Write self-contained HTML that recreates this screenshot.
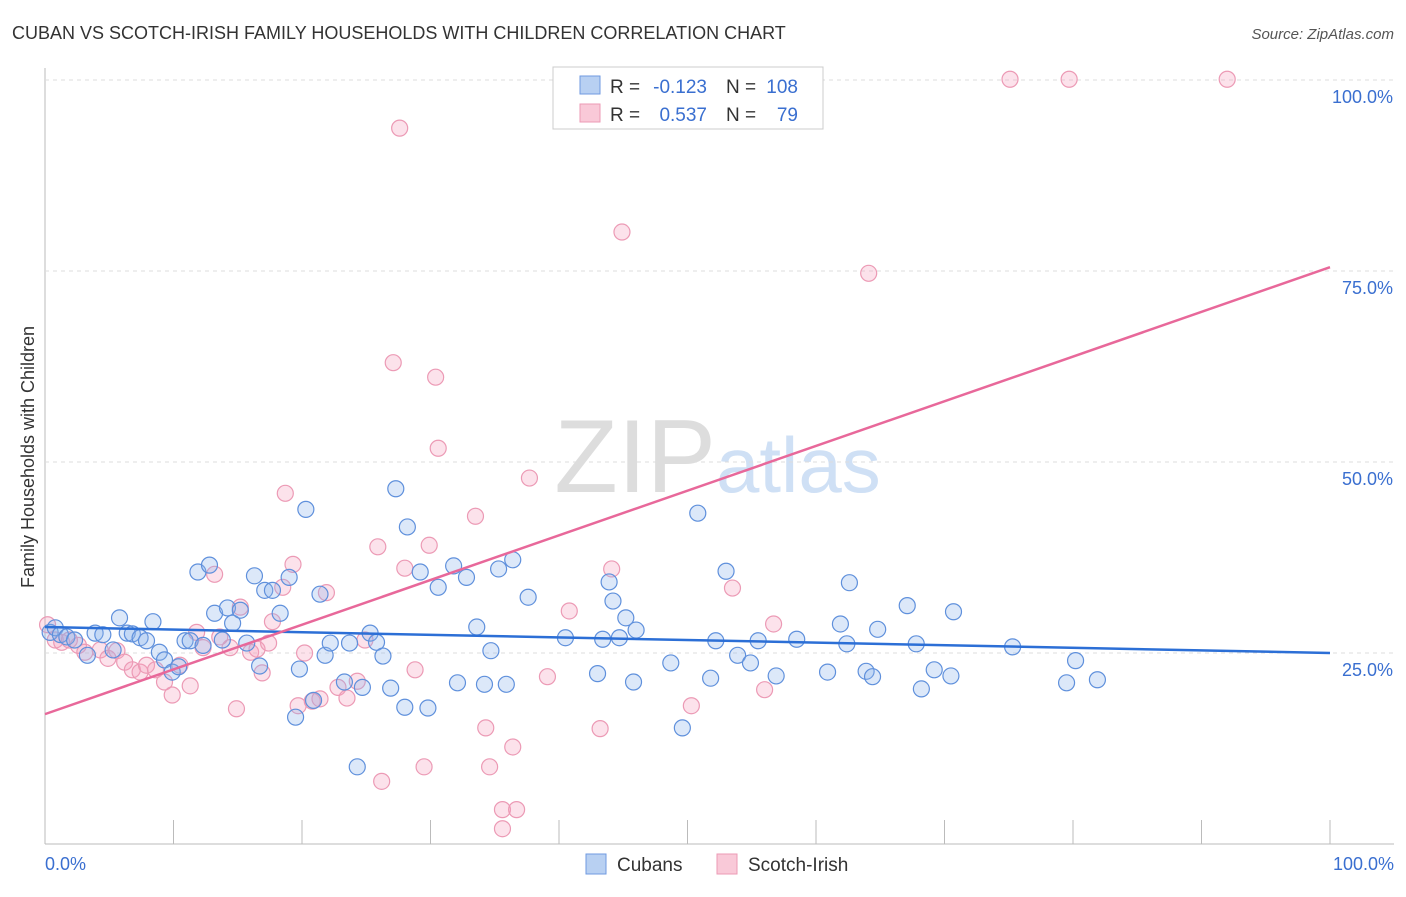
<!DOCTYPE html>
<html><head><meta charset="utf-8"><style>
body{margin:0;background:#fff;font-family:"Liberation Sans",sans-serif}
svg text{font-family:"Liberation Sans",sans-serif}
</style></head><body>
<svg id="chart" width="1406" height="892">
<text x="12" y="39" font-size="18" fill="#333">CUBAN VS SCOTCH-IRISH FAMILY HOUSEHOLDS WITH CHILDREN CORRELATION CHART</text>
<text x="1394" y="39" font-size="15" fill="#555" font-style="italic" text-anchor="end">Source: ZipAtlas.com</text>
<text x="716" y="492" font-size="104" fill="#ddd" text-anchor="end" font-family="Liberation Serif">ZIP</text>
<text x="716" y="492" font-size="78" fill="#cfe0f5">atlas</text>
<g id="grid"></g><g id="pts"></g><g id="lines"></g>
<text transform="translate(34,457) rotate(-90)" font-size="18" fill="#333" text-anchor="middle">Family Households with Children</text>
<text x="45" y="870" font-size="18" fill="#3a6fd0">0.0%</text>
<text x="1394" y="870" font-size="18" fill="#3a6fd0" text-anchor="end">100.0%</text>
<g>
<rect x="553" y="67" width="270" height="62" fill="#fff" stroke="#ccc"/>
<rect x="580" y="76" width="20" height="18" fill="#b8d0f2" stroke="#6f9ae0"/>
<rect x="580" y="104" width="20" height="18" fill="#f9c9d8" stroke="#ec9ab5"/>
<text x="610" y="93" font-size="19" fill="#333">R =</text>
<text x="707" y="93" font-size="19" fill="#3a6fd0" text-anchor="end">-0.123</text>
<text x="726" y="93" font-size="19" fill="#333">N =</text>
<text x="798" y="93" font-size="19" fill="#3a6fd0" text-anchor="end">108</text>
<text x="610" y="121" font-size="19" fill="#333">R =</text>
<text x="707" y="121" font-size="19" fill="#3a6fd0" text-anchor="end">0.537</text>
<text x="726" y="121" font-size="19" fill="#333">N =</text>
<text x="798" y="121" font-size="19" fill="#3a6fd0" text-anchor="end">79</text>
</g>
<g>
<rect x="586" y="854" width="20" height="20" fill="#b8d0f2" stroke="#6f9ae0"/>
<text x="617" y="871" font-size="19" fill="#333">Cubans</text>
<rect x="717" y="854" width="20" height="20" fill="#f9c9d8" stroke="#ec9ab5"/>
<text x="748" y="871" font-size="19" fill="#333">Scotch-Irish</text>
</g>
</svg>
<script>
const yTicks=[25,50,75,100];
const yTickLabels=["25.0%","50.0%","75.0%","100.0%"];
const xTicks=[0,10,20,30,40,50,60,70,80,90,100];
const cubanX=[0.4,0.8,1.2,1.7,2.3,3.3,3.9,4.5,5.3,5.8,6.4,6.8,7.4,7.9,8.4,8.9,9.3,9.9,10.4,10.9,11.3,11.9,12.3,12.8,13.2,13.8,14.2,14.6,15.2,15.7,16.3,16.7,17.1,17.7,18.3,19.0,19.5,19.8,20.3,20.9,21.4,21.8,22.2,23.3,23.7,24.3,24.7,25.3,25.8,26.3,26.9,27.3,28.0,28.2,29.2,29.8,30.6,31.8,32.1,32.8,33.6,34.2,34.7,35.3,35.9,36.4,37.6,40.5,43.0,43.4,43.9,44.2,44.7,45.2,45.8,46.0,48.7,49.6,50.8,51.8,52.2,53.0,53.9,54.9,55.5,56.9,58.5,60.9,61.9,62.4,62.6,63.9,64.4,64.8,67.1,67.8,68.2,69.2,70.5,70.7,75.3,79.5,80.2,81.9];
const cubanY=[27.7,28.3,27.4,27.1,26.7,24.7,27.6,27.4,25.4,29.6,27.6,27.5,27.0,26.6,29.1,25.1,24.1,22.5,23.2,26.6,26.6,35.6,26.0,36.5,30.2,26.7,30.9,28.9,30.6,26.3,35.1,23.3,33.2,33.2,30.2,34.9,16.6,22.9,43.8,18.8,32.7,24.7,26.3,21.2,26.3,10.1,20.5,27.6,26.4,24.6,20.4,46.5,17.9,41.5,35.6,17.8,33.6,36.4,21.1,34.9,28.4,20.9,25.3,36.0,20.9,37.2,32.3,27.0,22.3,26.8,34.3,31.8,27.0,29.6,21.2,28.0,23.7,15.2,43.3,21.7,26.6,35.7,24.7,23.7,26.6,22.0,26.8,22.5,28.8,26.2,34.2,22.6,21.9,28.1,31.2,26.2,20.3,22.8,22.0,30.4,25.8,21.1,24.0,21.5];
const scotX=[0.2,0.8,1.3,1.9,2.6,3.1,4.3,4.9,5.6,6.2,6.8,7.4,7.9,8.6,9.3,9.9,10.5,11.3,11.8,12.3,13.2,13.6,14.4,14.9,15.2,16.0,16.5,16.9,17.4,17.7,18.5,18.7,19.3,19.7,20.2,20.8,21.4,21.9,22.8,23.5,24.3,24.9,25.9,26.2,27.1,27.6,28.0,28.8,29.5,29.9,30.4,30.6,33.5,34.3,34.6,35.6,35.6,36.4,36.7,37.7,39.1,40.8,43.2,44.1,44.9,50.3,53.5,56.0,56.7,64.1,75.1,79.7,92.0];
const scotY=[28.7,26.7,26.4,26.7,26.0,25.1,25.4,24.3,25.3,23.8,22.8,22.5,23.4,22.8,21.2,19.5,23.4,20.7,27.7,25.7,35.3,27.1,25.7,17.7,31.0,25.1,25.5,22.4,26.3,29.1,33.6,45.9,36.6,18.1,25.0,18.7,19.0,32.9,20.5,19.1,21.3,26.7,38.9,8.2,63.0,93.7,36.1,22.8,10.1,39.1,61.1,51.8,42.9,15.2,10.1,4.5,2.0,12.7,4.5,47.9,21.9,30.5,15.1,36.0,80.1,18.1,33.5,20.2,28.8,74.7,100.1,100.1,100.1];
const cubanTrend=[28.4,25.0];
const scotTrend=[17.0,75.5];
const NS="http://www.w3.org/2000/svg";
const X=v=>45+v*12.85, Y=v=>844-v*7.64;
function mk(t,a,p){const e=document.createElementNS(NS,t);for(const k in a)e.setAttribute(k,a[k]);p.appendChild(e);return e;}
const grid=document.getElementById('grid');
const gl=mk('line',{x1:45,y1:68,x2:45,y2:844,stroke:'#bbb'},grid);


const bl=mk('line',{x1:45,y1:844,x2:1394,y2:844,stroke:'#bbb'},grid);


yTicks.forEach((t,i)=>{
 const l=mk('line',{x1:45,y1:Y(t),x2:1394,y2:Y(t),stroke:'#ddd','stroke-dasharray':'4 4'},grid);
 
 
 const tx=mk('text',{x:1393,y:Y(t)+23,'font-size':18,fill:'#3a6fd0','text-anchor':'end'},grid);
 tx.textContent=yTickLabels[i];
 
 
});
xTicks.forEach(t=>{
 const l=mk('line',{x1:X(t),y1:820,x2:X(t),y2:844,stroke:'#bbb'},grid);
 
 
});
const pts=document.getElementById('pts');
scotX.forEach((v,i)=>{
 const c=mk('circle',{cx:X(v),cy:Y(scotY[i]),r:8,fill:'rgba(244,160,188,0.3)',stroke:'#ec9ab5','stroke-width':1.2},pts);
 
 
});
cubanX.forEach((v,i)=>{
 const c=mk('circle',{cx:X(v),cy:Y(cubanY[i]),r:8,fill:'rgba(140,180,235,0.3)',stroke:'#5f90dc','stroke-width':1.2},pts);
 
 
});
const lines=document.getElementById('lines');
const l1=mk('line',{x1:X(0),y1:Y(cubanTrend[0]),x2:X(100),y2:Y(cubanTrend[1]),stroke:'#2c6fd6','stroke-width':2.5},lines);


const l2=mk('line',{x1:X(0),y1:Y(scotTrend[0]),x2:X(100),y2:Y(scotTrend[1]),stroke:'#e8689a','stroke-width':2.5},lines);


</script>
</body></html>
